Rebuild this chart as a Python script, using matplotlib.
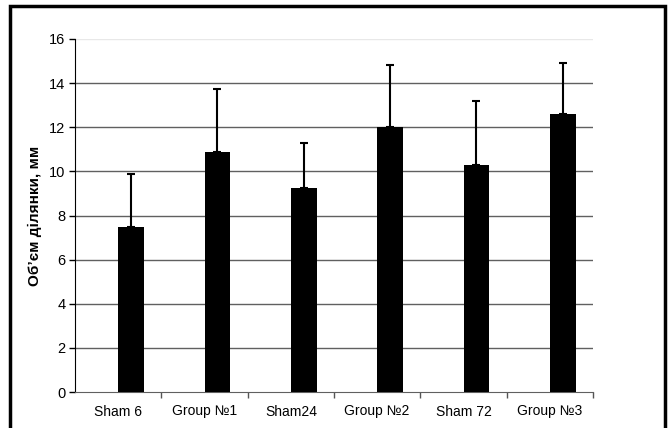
import numpy as np
import matplotlib
matplotlib.use('Agg')
from matplotlib import pyplot as plt
from matplotlib.patches import Rectangle

categories = ['Sham 6', 'Group №1', 'Sham24', 'Group №2', 'Sham 72', 'Group №3']
values = [7.5, 10.9, 9.25, 12.0, 10.3, 12.6]
errors = [2.4, 2.85, 2.05, 2.8, 2.9, 2.3]
yticks = [0, 2, 4, 6, 8, 10, 12, 14, 16]

plt.rcParams['font.family'] = ['Liberation Sans', 'DejaVu Sans']

fig = plt.figure(figsize=(6.68, 4.28), dpi=100)
# outer frame
fig.patches.append(Rectangle((10/668, -0.05), 655/668, 1.05 - 6/428, transform=fig.transFigure,
                             fill=False, edgecolor='black', linewidth=2.5, zorder=10))
ax = fig.add_axes([75/668, 36/428, 518/668, 353/428])

x = np.arange(len(categories))
w = 0.3
ax.bar(x + w/2, values, width=w, color='black', zorder=3)
ax.errorbar(x + w/2, values, yerr=[np.zeros(len(errors)), errors], fmt='none',
            ecolor='black', elinewidth=1.5, capsize=3, capthick=1.5, zorder=4)

ax.set_xlim(-0.5, len(categories) - 0.5)
ax.set_ylim(0, 16)
ax.set_yticks(yticks)
ax.set_xticks(x)
ax.set_xticklabels(categories, fontsize=10)
ax.set_xticks(np.arange(len(categories)) + 0.5, minor=True)
ax.tick_params(axis='x', which='major', length=0, pad=9)
ax.tick_params(axis='x', which='minor', length=4, direction='out', width=1, colors='#555')
ax.tick_params(axis='y', length=4, width=1, labelsize=10.5, direction='out', pad=3)

ax.grid(axis='y', color='#606060', linewidth=1, zorder=0)
gl = ax.get_ygridlines()
gl[-1].set_color('#e8e8e8')
gl[0].set_visible(False)

for s in ['top', 'right']:
    ax.spines[s].set_visible(False)
ax.spines['bottom'].set_color('#606060')
ax.spines['left'].set_color('black')

ax.set_ylabel("Об\u2019єм ділянки, мм", fontsize=11, fontweight='bold', labelpad=5)

fig.savefig('out.png', dpi=100)
